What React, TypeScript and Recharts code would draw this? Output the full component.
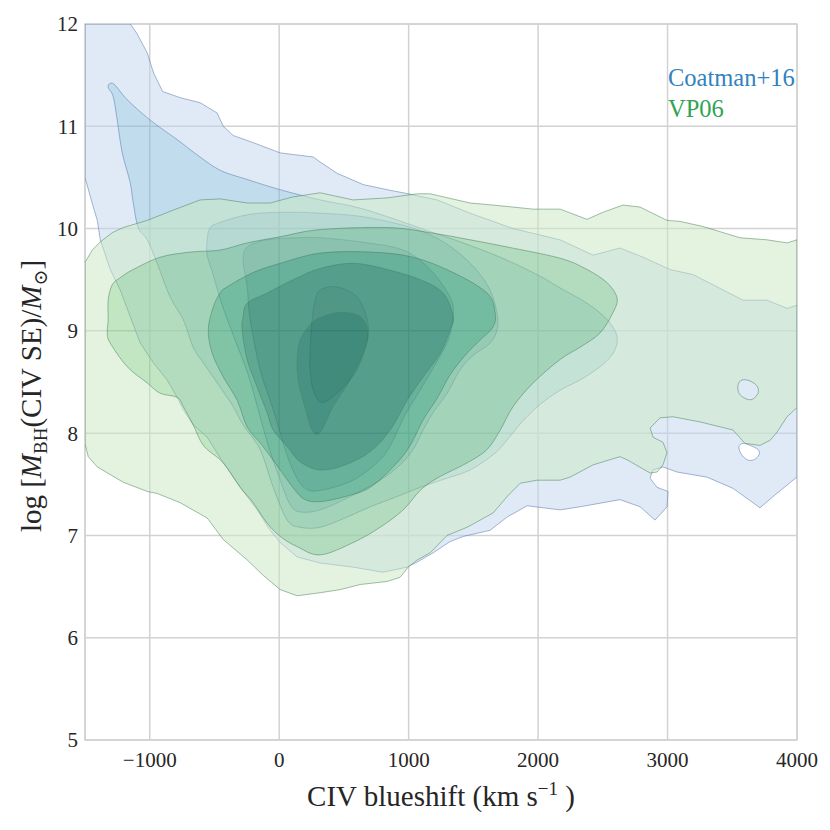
import React from 'react';
import { ScatterChart, Scatter, XAxis, YAxis, CartesianGrid, ReferenceArea } from 'recharts';

type P = [number, number];

const xTicks = [-1000, 0, 1000, 2000, 3000, 4000];
const yTicks = [5, 6, 7, 8, 9, 10, 11, 12];

// Coatman+16 density contours (outer -> inner)
const coatman1: P[] = [
  [-1500, 12.0], [-1150, 12.0], [-1100, 11.91], [-1020, 11.72], [-970, 11.52], [-900, 11.34], [-765, 11.28],
  [-610, 11.23], [-479, 11.13], [-432, 11.0], [-355, 10.91], [-201, 10.84], [8, 10.74], [263, 10.7],
  [317, 10.65], [448, 10.54], [649, 10.43], [834, 10.38], [996, 10.34], [1220, 10.28], [1475, 10.15],
  [1807, 10.0], [2170, 9.89], [2425, 9.74], [2633, 9.81], [2811, 9.72], [3019, 9.6], [3197, 9.55],
  [3382, 9.43], [3583, 9.3], [3768, 9.3], [3923, 9.22], [4000, 9.25], [4000, 7.57], [3969, 7.54],
  [3815, 7.38], [3714, 7.27], [3506, 7.46], [3305, 7.57], [3073, 7.62], [2965, 7.67], [2888, 7.64],
  [2865, 7.56], [2919, 7.47], [3004, 7.43], [2996, 7.28], [2903, 7.15], [2788, 7.28], [2633, 7.35],
  [2324, 7.28], [2170, 7.25], [1915, 7.29], [1761, 7.18], [1629, 7.05], [1421, 6.99], [1320, 6.94],
  [1189, 6.83], [1066, 6.74], [988, 6.69], [803, 6.64], [571, 6.69], [317, 6.73], [139, 6.79],
  [8, 6.93], [-70, 7.05], [-170, 7.25], [-301, 7.47], [-432, 7.71], [-556, 7.96], [-664, 8.08],
  [-741, 8.23], [-788, 8.35], [-865, 8.52], [-973, 8.69], [-1073, 8.88], [-1151, 9.14], [-1228, 9.4],
  [-1305, 9.6], [-1382, 9.89], [-1405, 10.08], [-1436, 10.21], [-1500, 10.5],
];
const coatman2: P[] = [
  [-1305, 11.42], [-1266, 11.4], [-1174, 11.26], [-996, 11.06], [-788, 10.87], [-633, 10.72], [-456, 10.57],
  [-247, 10.48], [8, 10.38], [317, 10.28], [625, 10.2], [988, 10.05], [1166, 9.97], [1398, 9.87],
  [1707, 9.72], [1992, 9.55], [2170, 9.42], [2378, 9.27], [2533, 9.11], [2610, 8.94], [2579, 8.78],
  [2479, 8.65], [2324, 8.52], [2170, 8.42], [2015, 8.28], [1876, 8.11], [1745, 7.91], [1653, 7.79],
  [1475, 7.64], [1297, 7.56], [1089, 7.47], [911, 7.38], [703, 7.28], [525, 7.18], [317, 7.08],
  [162, 7.08], [62, 7.15], [-46, 7.47], [-147, 7.84], [-278, 8.08], [-355, 8.26], [-456, 8.45],
  [-587, 8.69], [-664, 8.84], [-741, 9.11], [-842, 9.33], [-942, 9.66], [-1019, 9.89], [-1089, 10.01],
  [-1127, 10.25], [-1151, 10.45], [-1212, 10.74], [-1251, 11.06], [-1282, 11.29], [-1321, 11.38],
];
const coatman3: P[] = [
  [-556, 9.89], [-533, 10.01], [-456, 10.06], [-301, 10.12], [-147, 10.15], [85, 10.16], [317, 10.15],
  [625, 10.12], [934, 10.04], [1166, 9.94], [1359, 9.79], [1514, 9.61], [1629, 9.4], [1683, 9.17],
  [1683, 9.01], [1629, 8.88], [1498, 8.76], [1398, 8.62], [1297, 8.39], [1189, 8.2], [1112, 8.03],
  [1035, 7.84], [934, 7.69], [780, 7.54], [548, 7.38], [317, 7.25], [162, 7.23], [85, 7.3],
  [8, 7.54], [-85, 7.88], [-162, 8.23], [-239, 8.57], [-340, 8.91], [-440, 9.25], [-510, 9.55], [-556, 9.74],
];
const coatman4: P[] = [
  [-278, 9.69], [-247, 9.82], [-93, 9.89], [139, 9.91], [317, 9.91], [625, 9.87], [958, 9.79],
  [1166, 9.6], [1320, 9.33], [1344, 9.14], [1305, 8.91], [1205, 8.67], [1089, 8.42], [973, 8.18],
  [880, 7.93], [780, 7.74], [571, 7.54], [317, 7.44], [201, 7.46], [124, 7.59], [46, 7.84],
  [-46, 8.23], [-147, 8.62], [-224, 9.11], [-247, 9.43],
];
const coatman5: P[] = [
  [278, 9.3], [317, 9.4], [448, 9.43], [602, 9.33], [680, 9.11], [680, 8.91], [602, 8.62],
  [471, 8.42], [332, 8.3], [263, 8.42], [239, 8.62], [239, 8.81], [255, 9.11],
];

// VP06 density contours (outer -> inner)
const vp1: P[] = [
  [-1500, 9.67], [-1444, 9.79], [-1382, 9.87], [-1290, 9.96], [-1205, 10.01], [-1019, 10.08], [-819, 10.18],
  [-610, 10.28], [-456, 10.29], [-247, 10.25], [-69, 10.25], [108, 10.31], [317, 10.35], [571, 10.28],
  [834, 10.3], [1066, 10.34], [1166, 10.34], [1475, 10.25], [1653, 10.23], [1961, 10.19], [2170, 10.19],
  [2378, 10.09], [2502, 10.16], [2656, 10.23], [2788, 10.21], [2996, 10.08], [3097, 10.07], [3274, 10.02],
  [3560, 9.91], [3768, 9.89], [3923, 9.86], [4000, 9.89], [4000, 8.25], [3923, 8.16], [3846, 8.01],
  [3792, 7.93], [3714, 7.88], [3598, 7.9], [3506, 8.03], [3251, 8.11], [3042, 8.16], [2942, 8.15],
  [2865, 8.05], [2888, 7.96], [2965, 7.91], [2996, 7.81], [2965, 7.69], [2919, 7.62], [2865, 7.61],
  [2687, 7.74], [2633, 7.77], [2425, 7.69], [2247, 7.57], [2170, 7.54], [1992, 7.54], [1861, 7.51],
  [1761, 7.38], [1653, 7.22], [1452, 7.08], [1297, 7.0], [1166, 6.83], [1066, 6.76], [996, 6.69],
  [934, 6.59], [834, 6.55], [625, 6.52], [471, 6.47], [317, 6.44], [139, 6.41], [8, 6.47],
  [-124, 6.61], [-247, 6.76], [-432, 6.96], [-556, 7.17], [-765, 7.32], [-942, 7.41], [-1019, 7.43],
  [-1205, 7.52], [-1405, 7.67], [-1475, 7.77], [-1500, 7.9],
];
const vp2: P[] = [
  [-1321, 9.3], [-1290, 9.45], [-1228, 9.52], [-1127, 9.6], [-919, 9.72], [-687, 9.77], [-456, 9.79],
  [-247, 9.86], [8, 9.92], [317, 9.99], [834, 10.01], [1166, 9.96], [1475, 9.89], [1761, 9.82],
  [2170, 9.71], [2378, 9.6], [2533, 9.47], [2610, 9.32], [2579, 9.18], [2479, 8.98], [2324, 8.84],
  [2170, 8.72], [1961, 8.49], [1807, 8.26], [1707, 8.03], [1606, 7.84], [1452, 7.71], [1220, 7.56],
  [1089, 7.44], [958, 7.25], [780, 7.08], [571, 6.93], [317, 6.81], [139, 6.89], [8, 6.99],
  [-93, 7.12], [-201, 7.32], [-301, 7.47], [-432, 7.71], [-556, 7.84], [-610, 7.93], [-664, 8.08],
  [-741, 8.26], [-788, 8.35], [-919, 8.39], [-1019, 8.49], [-1174, 8.65], [-1305, 8.88], [-1328, 8.98],
  [-1321, 9.11],
];
const vp3: P[] = [
  [-548, 9.01], [-510, 9.23], [-456, 9.37], [-402, 9.43], [-201, 9.57], [8, 9.66], [317, 9.76],
  [703, 9.77], [1035, 9.72], [1344, 9.57], [1606, 9.37], [1668, 9.18], [1653, 9.04], [1552, 8.91],
  [1436, 8.76], [1320, 8.57], [1220, 8.34], [1112, 8.13], [1012, 7.88], [896, 7.69], [703, 7.47],
  [510, 7.38], [317, 7.33], [201, 7.35], [124, 7.44], [8, 7.64], [-131, 7.88], [-247, 8.06],
  [-324, 8.32], [-432, 8.55], [-517, 8.78],
];
const vp4: P[] = [
  [-286, 9.01], [-278, 9.14], [-247, 9.27], [-93, 9.37], [108, 9.5], [317, 9.61], [571, 9.66],
  [834, 9.6], [1089, 9.5], [1266, 9.37], [1344, 9.14], [1320, 9.01], [1243, 8.78], [1112, 8.55],
  [988, 8.32], [857, 8.03], [703, 7.82], [510, 7.69], [317, 7.64], [162, 7.72], [62, 7.87],
  [-46, 8.03], [-93, 8.2], [-170, 8.45], [-247, 8.72],
];
const vp5: P[] = [
  [162, 8.91], [239, 9.06], [317, 9.13], [471, 9.18], [625, 9.14], [687, 8.98], [649, 8.78],
  [548, 8.52], [417, 8.26], [317, 8.01], [255, 8.03], [193, 8.28], [147, 8.52], [139, 8.72],
];

// small holes in the outermost contours
const vpHole: P[] = [
  [3544, 8.47], [3575, 8.52], [3637, 8.51], [3691, 8.46], [3699, 8.39], [3653, 8.33], [3598, 8.34], [3552, 8.39],
];
const coatmanHole: P[] = [
  [3552, 7.87], [3583, 7.9], [3637, 7.88], [3699, 7.84], [3707, 7.79], [3668, 7.74], [3614, 7.74], [3567, 7.8],
];

const blueLevels = [coatman1, coatman2, coatman3, coatman4, coatman5];
const blueFills = ['#c1d5ed', '#82badb', '#4a98c9', '#1f6eb3', '#08519c'];
const greenLevels = [vp1, vp2, vp3, vp4, vp5];
const greenFills = ['#c9e7c1', '#86cc85', '#41ab5d', '#1d8640', '#006d2c'];

type Loop = { pts: P[]; smooth: boolean; stroked: boolean };
type XY = { x: number; y: number };

function loopPath(pts: XY[], smooth: boolean): string {
  const n = pts.length;
  if (n < 3) return '';
  if (!smooth) return 'M' + pts.map((p) => `${p.x.toFixed(2)},${p.y.toFixed(2)}`).join('L') + 'Z';
  let d = `M${pts[0].x.toFixed(2)},${pts[0].y.toFixed(2)}`;
  for (let i = 0; i < n; i++) {
    const p0 = pts[(i - 1 + n) % n];
    const p1 = pts[i];
    const p2 = pts[(i + 1) % n];
    const p3 = pts[(i + 2) % n];
    const c1x = p1.x + (p2.x - p0.x) / 6;
    const c1y = p1.y + (p2.y - p0.y) / 6;
    const c2x = p2.x - (p3.x - p1.x) / 6;
    const c2y = p2.y - (p3.y - p1.y) / 6;
    d += `C${c1x.toFixed(2)},${c1y.toFixed(2)} ${c2x.toFixed(2)},${c2y.toFixed(2)} ${p2.x.toFixed(2)},${p2.y.toFixed(2)}`;
  }
  return d + 'Z';
}

// A band = region inside the first loop but outside the following loops (even-odd fill).
function makeBand(loops: Loop[], fill: string, stroke: string) {
  return (props: any) => {
    const pts: XY[] = props.points || [];
    let idx = 0;
    let fillD = '';
    let strokeD = '';
    loops.forEach((l) => {
      const seg = pts.slice(idx, idx + l.pts.length);
      idx += l.pts.length;
      const d = loopPath(seg, l.smooth);
      fillD += d;
      if (l.stroked) strokeD += d;
    });
    return (
      <g>
        <path d={fillD} fill={fill} fillOpacity={0.5} fillRule="evenodd" stroke="none" />
        <path d={strokeD} fill="none" stroke={stroke} strokeOpacity={0.6} strokeWidth={0.85} />
      </g>
    );
  };
}

function bandsFor(levels: P[][], hole: P[]): Loop[][] {
  return levels.map((lvl, i) => {
    const loops: Loop[] = [{ pts: lvl, smooth: i > 0, stroked: true }];
    if (i + 1 < levels.length) loops.push({ pts: levels[i + 1], smooth: true, stroked: false });
    if (i === 0) loops.push({ pts: hole, smooth: true, stroked: true });
    return loops;
  });
}

const blueBands = bandsFor(blueLevels, coatmanHole);
const greenBands = bandsFor(greenLevels, vpHole);

const toPts = (loops: Loop[]) => loops.flatMap((l) => l.pts.map(([x, y]) => ({ x, y })));
const noShape = () => <g />;
const fmtX = (v: number) => (v < 0 ? '\u2212' + Math.abs(v) : String(v));

const FONT = '"Liberation Serif", "DejaVu Serif", serif';
const W = 814;
const H = 814;

export default function App() {
  return (
    <div style={{ position: 'relative', width: W, height: H }}>
      <ScatterChart width={W} height={H} margin={{ top: 16, right: 25, bottom: 52, left: 17 }}>
        <CartesianGrid stroke="#d2d2d2" strokeWidth={1.5} />
        <XAxis
          type="number"
          dataKey="x"
          domain={[-1500, 4000]}
          ticks={xTicks}
          tickFormatter={fmtX}
          allowDataOverflow
          height={30}
          axisLine={false}
          tickLine={false}
          tickSize={0}
          tickMargin={12}
          tick={{ fontFamily: FONT, fontSize: 21, fill: '#262626' }}
        />
        <YAxis
          type="number"
          dataKey="y"
          domain={[5, 12]}
          ticks={yTicks}
          allowDataOverflow
          width={60}
          axisLine={false}
          tickLine={false}
          tickSize={0}
          tickMargin={7}
          tick={{ fontFamily: FONT, fontSize: 21, fill: '#262626' }}
        />
        {blueBands.map((loops, i) => (
          <Scatter
            key={'b' + i}
            name={'Coatman+16 level ' + (i + 1)}
            data={toPts(loops)}
            isAnimationActive={false}
            shape={noShape}
            legendType="none"
            line={makeBand(loops, blueFills[i], '#4f72a6')}
          />
        ))}
        {greenBands.map((loops, i) => (
          <Scatter
            key={'g' + i}
            name={'VP06 level ' + (i + 1)}
            data={toPts(loops)}
            isAnimationActive={false}
            shape={noShape}
            legendType="none"
            line={makeBand(loops, greenFills[i], '#43805a')}
          />
        ))}
        <ReferenceArea x1={-1500} x2={4000} y1={5} y2={12} fill="none" stroke="#d2d2d2" strokeWidth={1.5} />
      </ScatterChart>
      <svg width={W} height={H} style={{ position: 'absolute', left: 0, top: 0, pointerEvents: 'none' }}>
        <text x={660} y={78} fontFamily={FONT} fontSize={24.5} fill="#3182bd">Coatman+16</text>
        <text x={660} y={109} fontFamily={FONT} fontSize={24.5} fill="#31a354">VP06</text>
        <text x={433} y={798} textAnchor="middle" fontFamily={FONT} fontSize={29} fill="#262626">
          CIV blueshift (km s
          <tspan fontSize={19} dy={-11}>{'\u22121'}</tspan>
          <tspan dy={11}>{' )'}</tspan>
        </text>
        <text transform="translate(33,388) rotate(-90)" textAnchor="middle" fontFamily={FONT} fontSize={29} fill="#262626">
          {'log ['}
          <tspan fontStyle="italic">M</tspan>
          <tspan fontSize={19} dy={6}>BH</tspan>
          <tspan dy={-6}>(CIV SE)/</tspan>
          <tspan fontStyle="italic">M</tspan>
          <tspan fontSize={19} dy={6}>{'\u2299'}</tspan>
          <tspan dy={-6}>]</tspan>
        </text>
      </svg>
    </div>
  );
}
